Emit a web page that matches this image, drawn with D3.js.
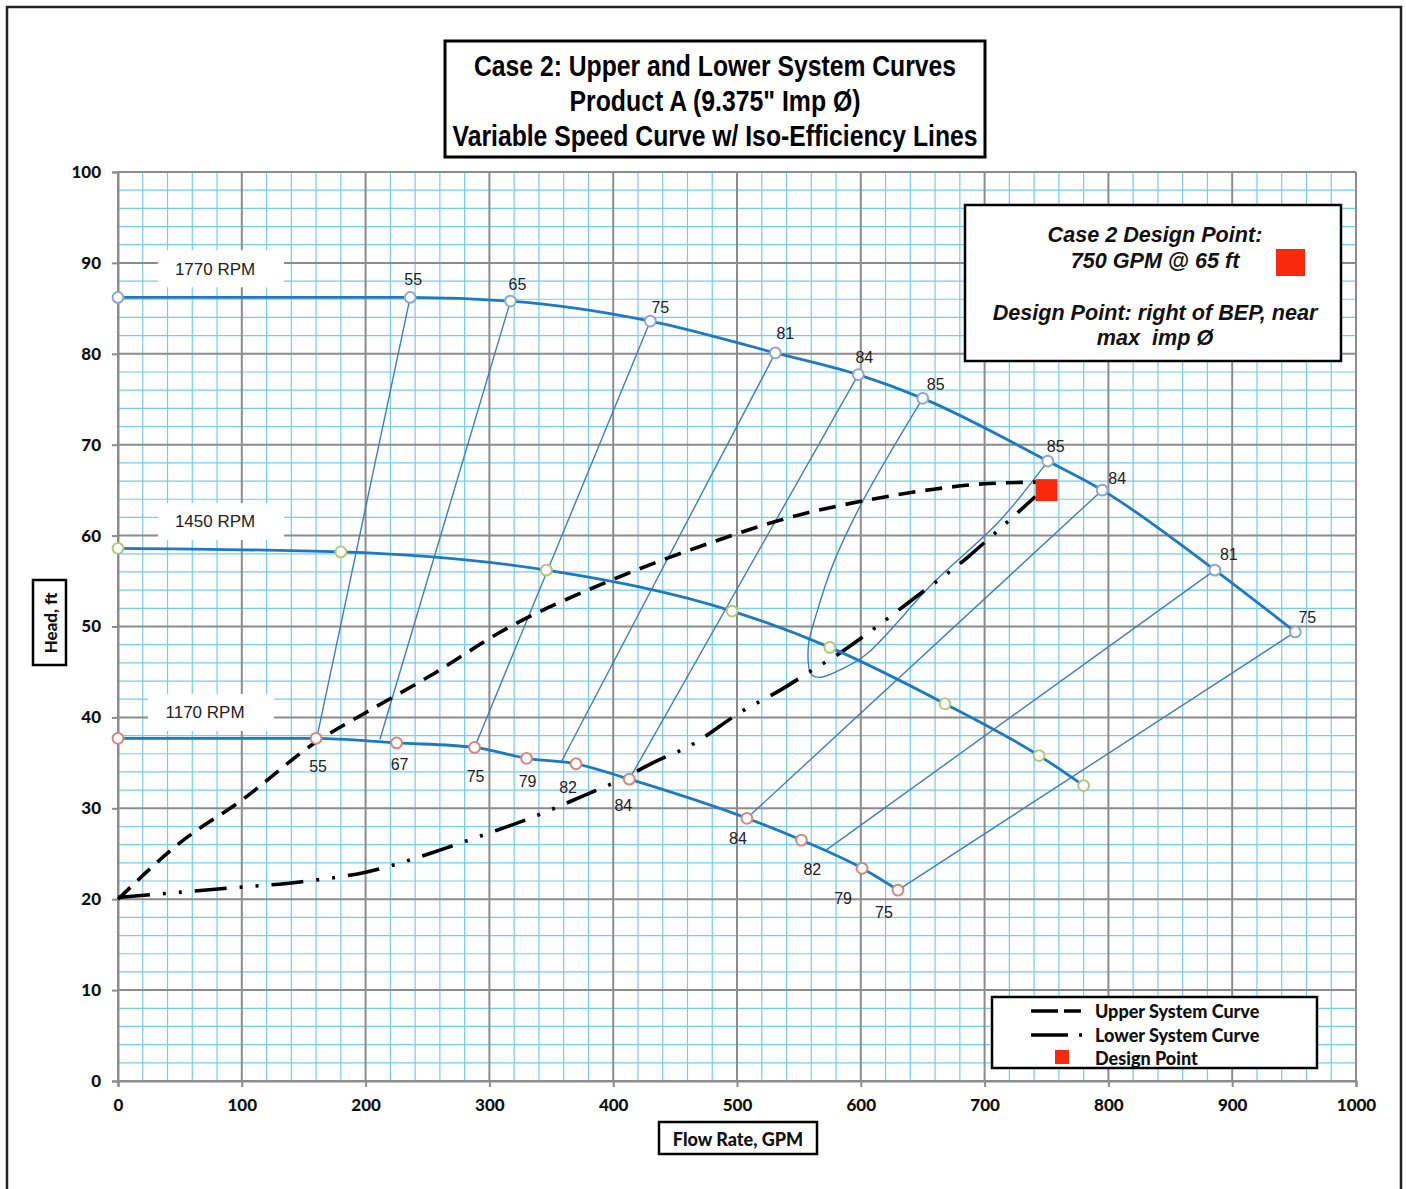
<!DOCTYPE html>
<html><head><meta charset="utf-8">
<script src="https://cdn.jsdelivr.net/npm/d3@7"></script>
<style>body{margin:0;background:#fff}svg{display:block}</style>
</head><body><svg id="c" width="1406" height="1189"></svg>
<script>
// ---------------- DATA ----------------
const titleLines = ["Case 2: Upper and Lower System Curves", "Product A (9.375\" Imp \u00D8)", "Variable Speed Curve w/ Iso-Efficiency Lines"];
const xTicks = [0,100,200,300,400,500,600,700,800,900,1000];
const yTicks = [0,10,20,30,40,50,60,70,80,90,100];
const xTitle = "Flow Rate, GPM";
const yTitle = "Head, ft";
const rpmNames = ["1770 RPM", "1450 RPM", "1170 RPM"];

const flow1770 = [0, 236, 317, 430, 531, 598, 650, 751, 795, 886, 951];
const head1770 = [86.2, 86.2, 85.8, 83.6, 80.1, 77.7, 75.1, 68.2, 65.0, 56.2, 49.4];
const eff1770  = ["", "55", "65", "75", "81", "84", "85", "85", "84", "81", "75"];

const flow1450 = [0, 180, 346, 496, 575, 668, 744, 780];
const head1450 = [58.6, 58.2, 56.2, 51.7, 47.7, 41.5, 35.8, 32.5];

const flow1170 = [0, 160, 225, 288, 330, 370, 413, 508, 552, 601, 630];
const head1170 = [37.7, 37.7, 37.2, 36.7, 35.5, 34.9, 33.2, 28.9, 26.5, 23.4, 21.0];
const eff1170  = ["", "55", "67", "75", "79", "82", "84", "84", "82", "79", "75"];

// iso-efficiency lines: low-speed end -> 1770 end
const isoFlowLow  = [160.5, 211.6, 288, 358.4, 413, 508, 572, 630];
const isoHeadLow  = [37.7, 37.6, 36.7, 35.2, 33.2, 28.9, 25.4, 21.0];
const isoFlowHigh = [236, 317, 430, 531, 598, 795, 886, 951];
const isoHeadHigh = [86.2, 85.8, 83.6, 80.1, 77.7, 65.0, 56.2, 49.4];

// 85% efficiency island
const loopFlow = [650, 602, 578, 564.4, 557.6, 560.3, 567, 586, 605, 658.6, 712, 751];
const loopHead = [75.1, 63.9, 57.0, 51.5, 47.8, 44.7, 44.4, 45.4, 47.0, 54.8, 61.6, 68.2];

const upperFlow = [0, 50, 101, 160, 201, 255, 309, 395, 470, 551, 605, 659, 700, 749];
const upperHead = [20.0, 26.2, 31.0, 37.3, 40.6, 44.8, 49.4, 54.9, 58.8, 62.3, 63.9, 65.1, 65.7, 65.9];

const lowerFlow = [0, 88, 147, 201, 260, 298, 325, 349, 373, 405, 432, 465, 502, 535, 562, 580, 605, 645, 687, 707, 741];
const lowerHead = [20.2, 21.2, 21.9, 23.0, 25.4, 27.2, 28.5, 29.8, 31.2, 33.1, 35.0, 37.1, 40.5, 43.0, 45.3, 46.8, 49.2, 53.3, 57.7, 60.1, 64.3];

const designFlow = 750, designHead = 65;
const designText = ["Case 2 Design Point:", "750 GPM @ 65 ft", "Design Point: right of BEP, near", "max  imp \u00D8"];
const legendNames = ["Upper System Curve", "Lower System Curve", "Design Point"];

// ---------------- LAYOUT ----------------
const svg = d3.select("#c");
const x = d3.scaleLinear().domain([0, 1000]).range([118, 1356]);
const y = d3.scaleLinear().domain([0, 100]).range([1081, 172]);
const pts = (fx, hy) => fx.map((f, i) => [f, hy[i]]);
const line = (curve) => d3.line().x(d => x(d[0])).y(d => y(d[1])).curve(curve);

const BLUE = "#1c7ac4", ISO = "#3f7dc2";

// outer frame
svg.append("rect").attr("x", 7).attr("y", 7).attr("width", 1394).attr("height", 1200)
  .attr("fill", "none").attr("stroke", "#222").attr("stroke-width", 2.5);

// grid
const g = svg.append("g");
g.selectAll(".mx").data(d3.range(0, 1001, 20).filter(v => v % 100)).join("line")
  .attr("x1", d => x(d)).attr("x2", d => x(d)).attr("y1", y(0)).attr("y2", y(100))
  .attr("stroke", "#72cdf0").attr("stroke-width", 1.2);
g.selectAll(".my").data(d3.range(0, 101, 2).filter(v => v % 10)).join("line")
  .attr("y1", d => y(d)).attr("y2", d => y(d)).attr("x1", x(0)).attr("x2", x(1000))
  .attr("stroke", "#72cdf0").attr("stroke-width", 1.2);
g.selectAll(".Mx").data(xTicks).join("line")
  .attr("x1", d => x(d)).attr("x2", d => x(d)).attr("y1", y(0)).attr("y2", y(100))
  .attr("stroke", "#8c8c8c").attr("stroke-width", 2);
g.selectAll(".My").data(yTicks).join("line")
  .attr("y1", d => y(d)).attr("y2", d => y(d)).attr("x1", x(0)).attr("x2", x(1000))
  .attr("stroke", "#8c8c8c").attr("stroke-width", 2);

// axes
const ax = svg.append("g").attr("transform", `translate(0,${y(0)})`)
  .call(d3.axisBottom(x).tickValues(xTicks).tickFormat(d3.format("d")).tickSize(6).tickPadding(12));
const ay = svg.append("g").attr("transform", `translate(${x(0)},0)`)
  .call(d3.axisLeft(y).tickValues(yTicks).tickFormat(d3.format("d")).tickSize(6).tickPadding(11));
[ax, ay].forEach(a => {
  a.select(".domain").attr("stroke", "#8c8c8c").attr("stroke-width", 2);
  a.selectAll(".tick line").attr("stroke", "#8c8c8c").attr("stroke-width", 2);
  a.selectAll("text").attr("font-family", "Lato, 'Liberation Sans', sans-serif")
    .attr("font-weight", "900").attr("font-size", 17).attr("fill", "#111");
});

// RPM labels with white backing
const rpmPos = [[78.4, 89.3], [78.4, 61.5], [70.3, 40.5]];
rpmNames.forEach((n, i) => {
  const cx = x(rpmPos[i][0]), cy = y(rpmPos[i][1]);
  svg.append("rect").attr("x", cx - 57).attr("y", cy - 19).attr("width", 126).attr("height", 37).attr("fill", "#fff");
  svg.append("text").attr("x", cx).attr("y", cy).attr("text-anchor", "middle").attr("dominant-baseline", "central")
    .attr("font-family", "'Liberation Sans', Arial, sans-serif").attr("font-size", 17).attr("fill", "#222").text(n);
});

// iso-efficiency lines
svg.append("g").selectAll("line").data(isoFlowLow.map((f, i) => i)).join("line")
  .attr("x1", i => x(isoFlowLow[i])).attr("y1", i => y(isoHeadLow[i]))
  .attr("x2", i => x(isoFlowHigh[i])).attr("y2", i => y(isoHeadHigh[i]))
  .attr("stroke", ISO).attr("stroke-width", 1.4);
svg.append("path").attr("d", line(d3.curveCatmullRom.alpha(0.5))(pts(loopFlow, loopHead)))
  .attr("fill", "none").attr("stroke", ISO).attr("stroke-width", 1.4);

// system curves
svg.append("path").attr("d", line(d3.curveMonotoneX)(pts(upperFlow, upperHead)))
  .attr("fill", "none").attr("stroke", "#000").attr("stroke-width", 3.6).attr("stroke-dasharray", "17,10");
svg.append("path").attr("d", line(d3.curveMonotoneX)(pts(lowerFlow, lowerHead)))
  .attr("fill", "none").attr("stroke", "#000").attr("stroke-width", 3.6).attr("stroke-dasharray", "32,13,3,13,3,13");

// speed curves + markers
const speedSets = [
  {f: flow1770, h: head1770, mk: "#8ea5d6"},
  {f: flow1450, h: head1450, mk: "#b3c878"},
  {f: flow1170, h: head1170, mk: "#d9877b"}
];
speedSets.forEach(s => {
  svg.append("path").attr("d", line(d3.curveMonotoneX)(pts(s.f, s.h)))
    .attr("fill", "none").attr("stroke", BLUE).attr("stroke-width", 2.8);
});
speedSets.forEach(s => {
  svg.append("g").selectAll("circle").data(pts(s.f, s.h)).join("circle")
    .attr("cx", d => x(d[0])).attr("cy", d => y(d[1])).attr("r", 5.4)
    .attr("fill", "#fff").attr("stroke", s.mk).attr("stroke-width", 2);
});

// efficiency labels
const off1770 = [[0,0],[3,-18],[7,-17],[10,-14],[10,-19],[6,-17],[13,-14],[8,-15],[15,-12],[14,-16],[12,-14]];
const off1170 = [[0,0],[2,28],[3,22],[1,29],[1,23],[-8,24],[-6,26],[-9,20],[11,29],[-19,30],[-14,22]];
function effLabels(fl, hd, lab, off) {
  svg.append("g").selectAll("text").data(lab.map((t, i) => i).filter(i => lab[i])).join("text")
    .attr("x", i => x(fl[i]) + off[i][0]).attr("y", i => y(hd[i]) + off[i][1])
    .attr("text-anchor", "middle").attr("dominant-baseline", "central")
    .attr("font-family", "'Liberation Sans', Arial, sans-serif").attr("font-size", 16).attr("fill", "#222")
    .text(i => lab[i]);
}
effLabels(flow1770, head1770, eff1770, off1770);
effLabels(flow1170, head1170, eff1170, off1170);

// design point
const RED = "#f8290c";
svg.append("rect").attr("x", x(designFlow) - 11).attr("y", y(designHead) - 11)
  .attr("width", 22).attr("height", 22).attr("fill", RED);

// title box
svg.append("rect").attr("x", 445).attr("y", 41).attr("width", 540).attr("height", 116)
  .attr("fill", "#fff").attr("stroke", "#000").attr("stroke-width", 3);
const tLen = [482, 291, 525];
titleLines.forEach((t, i) => {
  svg.append("text").attr("x", 715).attr("y", 66 + i * 35).attr("text-anchor", "middle").attr("dominant-baseline", "central")
    .attr("font-family", "'Liberation Sans Narrow', 'Liberation Sans', Arial, sans-serif").attr("font-weight", "bold")
    .attr("font-size", 29).attr("textLength", tLen[i]).attr("lengthAdjust", "spacingAndGlyphs").attr("fill", "#000").text(t);
});

// design box
svg.append("rect").attr("x", 965).attr("y", 205).attr("width", 376).attr("height", 156)
  .attr("fill", "#fff").attr("stroke", "#000").attr("stroke-width", 2.5);
const dY = [234, 260, 312, 337], dX = [1155, 1155, 1155, 1155];
designText.forEach((t, i) => {
  svg.append("text").attr("x", dX[i]).attr("y", dY[i]).attr("text-anchor", "middle").attr("dominant-baseline", "central")
    .attr("font-family", "'Liberation Sans', Arial, sans-serif").attr("font-weight", "bold").attr("font-style", "italic")
    .attr("font-size", 21.6).attr("fill", "#111").style("white-space", "pre").text(t);
});
svg.append("rect").attr("x", 1276).attr("y", 249).attr("width", 29).attr("height", 27).attr("fill", RED);

// legend
svg.append("rect").attr("x", 992).attr("y", 997).attr("width", 325).attr("height", 71)
  .attr("fill", "#fff").attr("stroke", "#000").attr("stroke-width", 2.5);
const lY = [1011, 1035, 1058];
svg.append("line").attr("x1", 1031).attr("x2", 1081).attr("y1", lY[0]).attr("y2", lY[0])
  .attr("stroke", "#000").attr("stroke-width", 3.6).attr("stroke-dasharray", "27,6");
svg.append("line").attr("x1", 1031).attr("x2", 1084).attr("y1", lY[1]).attr("y2", lY[1])
  .attr("stroke", "#000").attr("stroke-width", 3.6).attr("stroke-dasharray", "37,11,3,20");
svg.append("rect").attr("x", 1055).attr("y", lY[2] - 8).attr("width", 14).attr("height", 14).attr("fill", RED);
legendNames.forEach((n, i) => {
  svg.append("text").attr("x", 1095).attr("y", lY[i]).attr("dominant-baseline", "central")
    .attr("font-family", "Lato, 'Liberation Sans', sans-serif").attr("font-weight", "900").attr("font-size", 18)
    .attr("fill", "#111").text(n);
});

// axis title boxes
svg.append("rect").attr("x", 659).attr("y", 1122).attr("width", 158).attr("height", 32)
  .attr("fill", "#fff").attr("stroke", "#000").attr("stroke-width", 2.5);
svg.append("text").attr("x", 738).attr("y", 1139).attr("text-anchor", "middle").attr("dominant-baseline", "central")
  .attr("font-family", "Lato, 'Liberation Sans', sans-serif").attr("font-weight", "900").attr("font-size", 18).attr("fill", "#111").text(xTitle);
svg.append("rect").attr("x", 33).attr("y", 580).attr("width", 33).attr("height", 85)
  .attr("fill", "#fff").attr("stroke", "#000").attr("stroke-width", 2.5);
svg.append("text").attr("transform", "translate(50,623) rotate(-90)").attr("text-anchor", "middle").attr("dominant-baseline", "central")
  .attr("font-family", "Lato, 'Liberation Sans', sans-serif").attr("font-weight", "900").attr("font-size", 17).attr("fill", "#111").text(yTitle);
</script>
</body></html>
